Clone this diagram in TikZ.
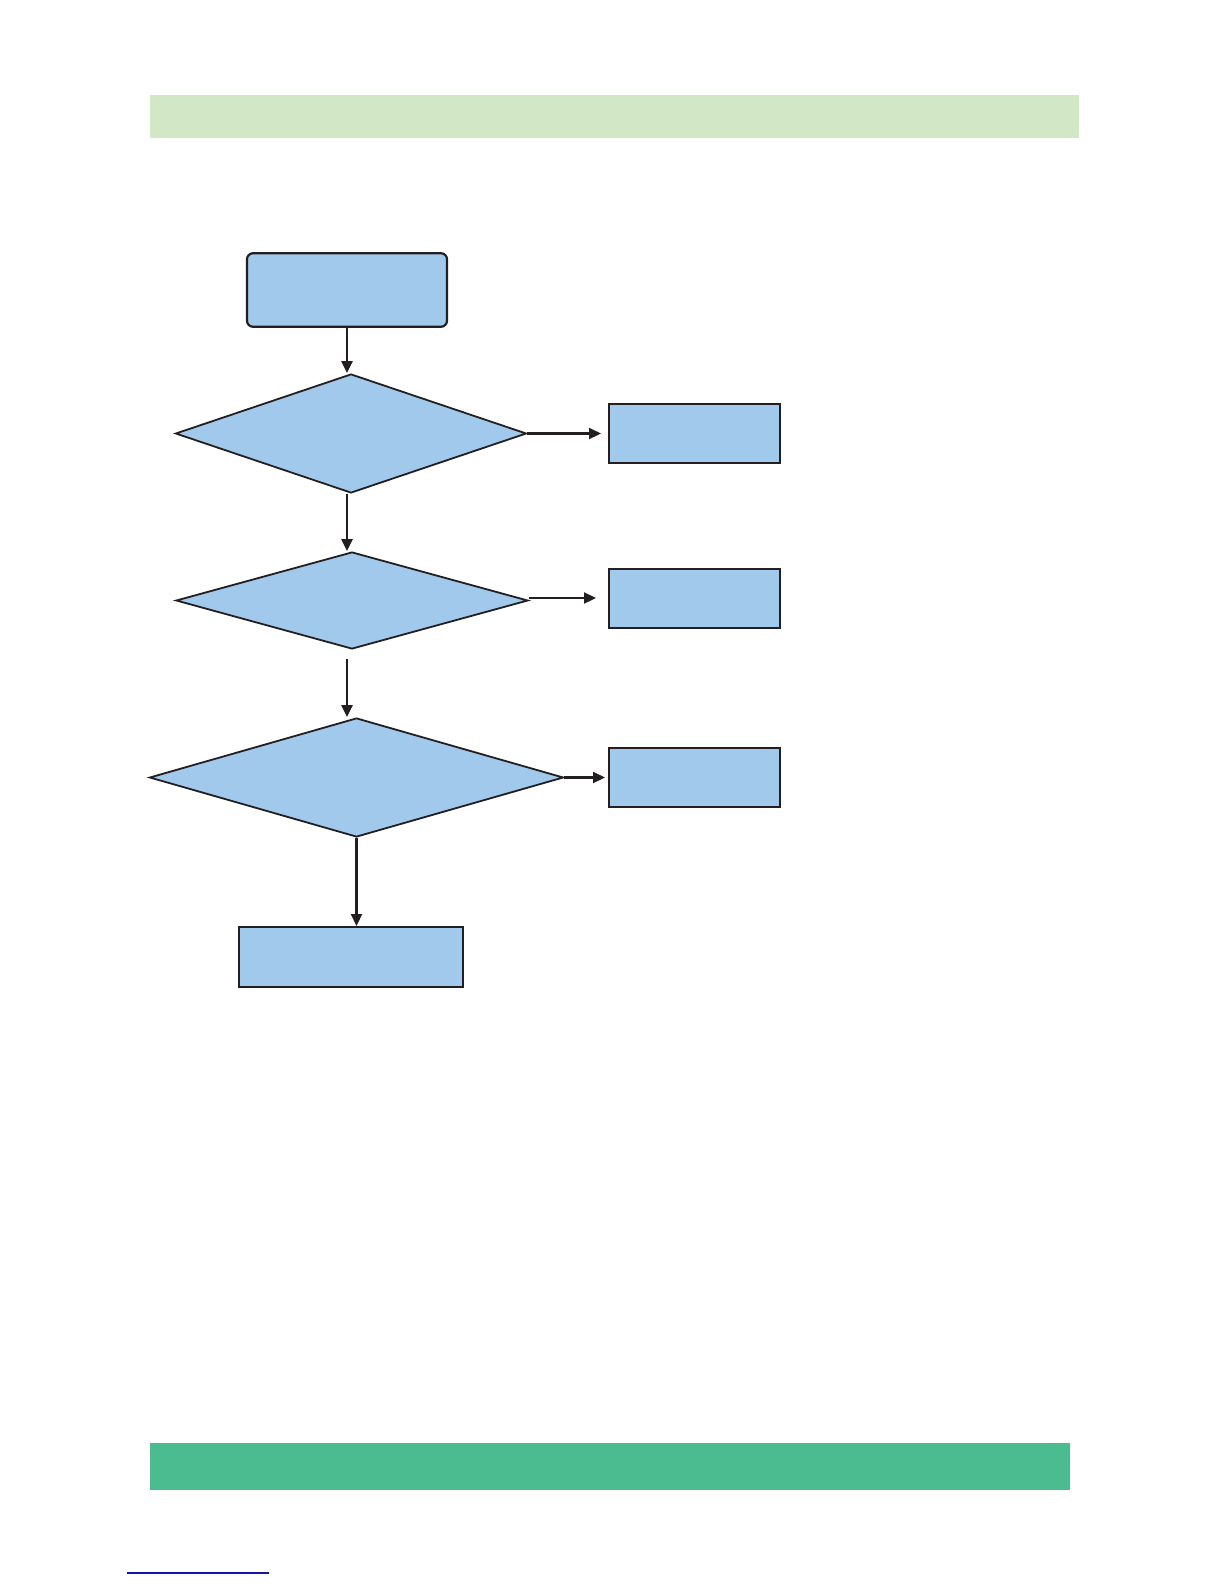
\documentclass[tikz,border=0pt]{standalone}
\usetikzlibrary{shapes.geometric,arrows.meta}

\definecolor{boxblue}{RGB}{161,201,236}
\definecolor{paleband}{RGB}{209,231,198}
\definecolor{deepband}{RGB}{75,188,143}
\definecolor{inkline}{RGB}{35,31,32}
\definecolor{linkblue}{RGB}{20,20,170}

\begin{document}
\begin{tikzpicture}[
    x=0.5pt, y=-0.5pt,
    startbox/.style={
      rectangle,
      rounded corners=3pt,
      draw=inkline,
      fill=boxblue,
      line width=1.1pt,
      minimum width=100pt,
      minimum height=36.75pt,
      inner sep=0pt
    },
    outbox/.style={
      rectangle,
      draw=inkline,
      fill=boxblue,
      line width=1pt,
      minimum width=85.5pt,
      minimum height=29.5pt,
      inner sep=0pt
    },
    checkbox/.style={
      diamond,
      draw=inkline,
      fill=boxblue,
      line width=0.9pt,
      inner sep=0pt
    },
    flow/.style={
      draw=inkline,
      line width=1.1pt,
      -{Triangle[length=6pt,width=5.5pt]}
    }
  ]
    \useasboundingbox (0,0) rectangle (1224,1584);

    % header and footer bands
    \fill[paleband] (149.5,95) rectangle (1078.5,138.5);
    \fill[deepband] (149.5,1443) rectangle (1069.5,1490);
    \draw[linkblue,line width=0.6pt] (127,1573) -- (269,1573);

    % boxes
    \node[startbox] (start) at (347,290) {};
    \node[checkbox,minimum width=175.5pt,minimum height=59.5pt] (d1) at (351,433.5) {};
    \node[checkbox,minimum width=176pt,minimum height=48.5pt] (d2) at (352,600.5) {};
    \node[checkbox,minimum width=207pt,minimum height=59.5pt] (d3) at (356.5,777.5) {};
    \node[outbox] (r1) at (694.5,433.5) {};
    \node[outbox] (r2) at (694.5,598) {};
    \node[outbox] (r3) at (694.5,777) {};
    \node[outbox,minimum width=112pt,minimum height=30pt] (finish) at (351,957) {};

    % arrows
    \draw[flow] (start.south) -- (start.south |- d1.north);
    \draw[flow] (d1.south -| start.south) -- (start.south |- d2.north);
    \draw[flow,shorten <=4.5pt] (d2.south -| start.south) -- (start.south |- d3.north);
    \draw[flow] (d3.south) -- (finish.north -| d3.south);
    \draw[flow,shorten >=3.5pt] (d1.east) -- (d1.east -| r1.west);
    \draw[flow,shorten >=6pt] (d2.east |- r2.west) -- (r2.west);
    \draw[flow,shorten >=1.5pt] (d3.east) -- (d3.east -| r3.west);
  \end{tikzpicture}
\end{document}
